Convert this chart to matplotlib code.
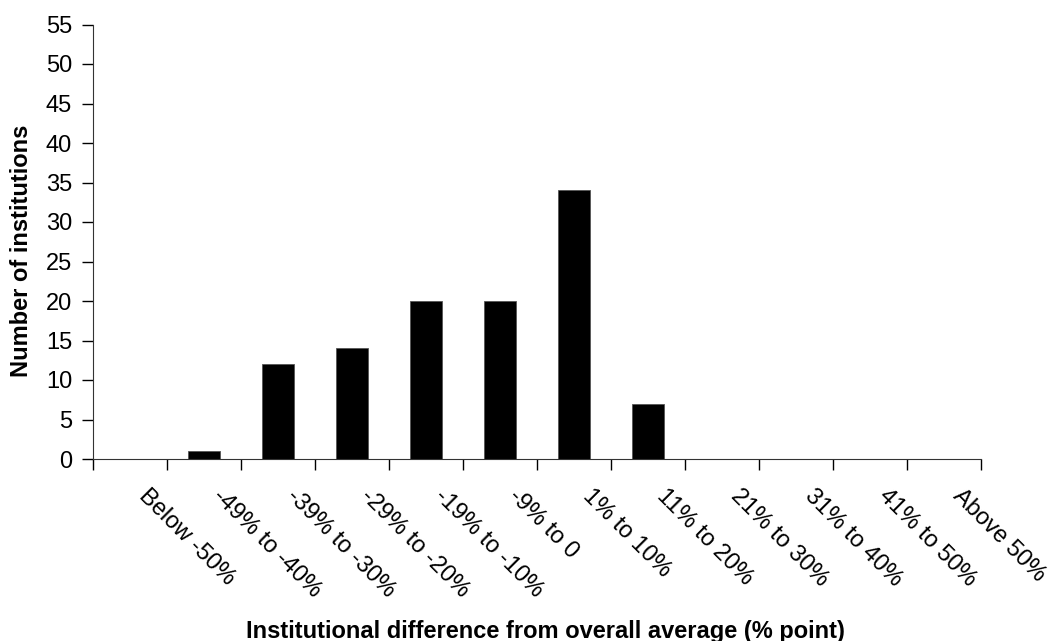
import matplotlib.pyplot as plt
from matplotlib.transforms import ScaledTranslation

categories = ['Below -50%', '-49% to -40%', '-39% to -30%', '-29% to -20%',
              '-19% to -10%', '-9% to 0', '1% to 10%', '11% to 20%',
              '21% to 30%', '31% to 40%', '41% to 50%', 'Above 50%']
counts = [0, 1, 12, 14, 20, 20, 34, 7, 0, 0, 0, 0]
y_ticks = list(range(0, 56, 5))

plt.rcParams['font.family'] = ['Liberation Sans', 'DejaVu Sans']

fig = plt.figure(figsize=(10.62, 6.41), dpi=100)
ax = fig.add_axes([93 / 1062, 1 - 459 / 641, 888 / 1062, (459 - 24.5) / 641])

pos = range(len(categories))
ax.bar(pos, counts, width=0.42, color='black', edgecolor='#555555', linewidth=0.6)

ax.set_xlim(-0.5, len(categories) - 0.5)
ax.set_ylim(0, 55)
ax.set_yticks(y_ticks)
ax.tick_params(axis='y', labelsize=17, length=8, width=1, pad=7)

ax.set_xticks(list(pos))
ax.set_xticklabels(categories, rotation=-45, ha='left', va='top',
                   rotation_mode='anchor', fontsize=17)
ax.tick_params(axis='x', which='major', length=0, pad=19)
ax.set_xticks([p - 0.5 for p in range(len(categories) + 1)], minor=True)
ax.tick_params(axis='x', which='minor', length=8, width=1)
for lbl in ax.get_xticklabels():
    lbl.set_transform(lbl.get_transform() + ScaledTranslation(0.2, 0, fig.dpi_scale_trans))

for side in ['top', 'right']:
    ax.spines[side].set_visible(False)
for side in ['left', 'bottom']:
    ax.spines[side].set_color('#333333')

ax.set_xlabel('Institutional difference from overall average (% point)',
              fontsize=17, fontweight='bold')
ax.xaxis.set_label_coords(0.51, -0.37)
ax.set_ylabel('Number of institutions', fontsize=17, fontweight='bold')
ax.yaxis.set_label_coords(-0.068, 0.48)

fig.savefig('out.png', dpi=100)
